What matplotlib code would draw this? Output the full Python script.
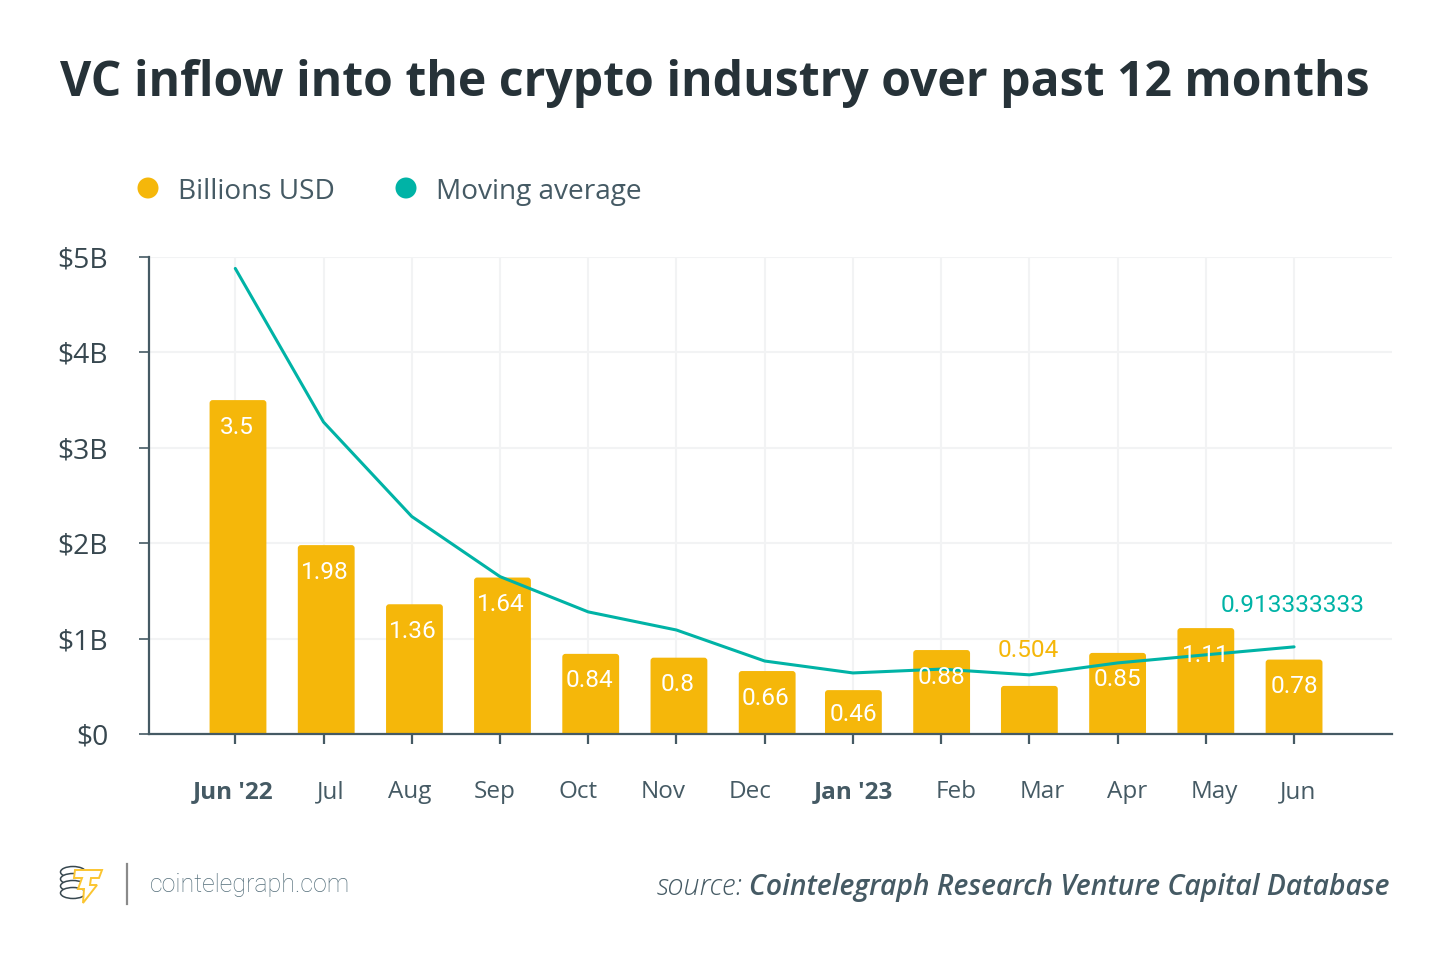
import matplotlib
matplotlib.use('Agg')
import matplotlib.pyplot as plt
from matplotlib.patches import FancyBboxPatch, Ellipse, Polygon

months = ['Jun \'22', 'Jul', 'Aug', 'Sep', 'Oct', 'Nov', 'Dec', 'Jan \'23', 'Feb', 'Mar', 'Apr', 'May', 'Jun']
billions = [3.5, 1.98, 1.36, 1.64, 0.84, 0.8, 0.66, 0.46, 0.88, 0.504, 0.85, 1.11, 0.78]
moving_avg = [4.88, 3.27, 2.28, 1.65, 1.28, 1.09, 0.765, 0.64, 0.68, 0.62, 0.745, 0.83, 0.913333333]
y_labels = ['$0', '$1B', '$2B', '$3B', '$4B', '$5B']
bold_months = ['Jun \'22', 'Jan \'23']
# the month labels are not centred on their ticks in the original (pixels)
label_shift = [-2, 7, -2, -5, -10, -13, -15, 0, 15, 13, 10, 8, 4]
# the first bars also sit slightly right of their ticks (pixels)
bar_shift = [2.7, 2.7, 2.7, 2.5, 2.5, 2.5, 2.5, 0.5, 0.5, 0, 0, 0, 0]

YELLOW = '#f5b70a'
TEAL = '#00b3a6'
DARK = '#263238'
AXIS = '#455a64'
GRID = '#f2f3f4'

plt.rcParams['font.family'] = ['Open Sans', 'DejaVu Sans']

fig = plt.figure(figsize=(14.5, 9.64), dpi=100)
W, H = 1450.0, 964.0
ax = fig.add_axes([149 / W, 1 - 734 / H, (1392 - 149) / W, (734 - 257) / H])
ax.set_xlim(-0.978, 13.11)
ax.set_ylim(0, 5)
step = 1243.0 / 14.088

ax.set_axisbelow(True)
ax.grid(color=GRID, lw=1.5)
for s in ['top', 'right']:
    ax.spines[s].set_visible(False)
for s in ['left', 'bottom']:
    ax.spines[s].set_color(AXIS)
    ax.spines[s].set_linewidth(1.6)
    ax.spines[s].set_zorder(6)

ax.set_xticks(range(len(months)))
ax.set_xticklabels([])
ax.set_yticks(range(len(y_labels)))
ax.set_yticklabels(y_labels, fontsize=20.3, color='#37474f')
ax.tick_params(axis='x', length=7.5, width=1.6, color=AXIS)
ax.tick_params(axis='y', length=7.5, width=1.2, color=AXIS, pad=22)

# rounded bars, started below zero so only the top corners show
aspect = (5 / 477.0) / (1 / step)
for i, v in enumerate(billions):
    ax.add_patch(FancyBboxPatch((i + bar_shift[i] / step - 0.322, -0.1), 0.644, v + 0.1,
                                boxstyle='round,pad=0,rounding_size=0.035',
                                mutation_aspect=aspect, fc=YELLOW, ec='none', zorder=3))

ax.plot(range(len(moving_avg)), moving_avg, color=TEAL, lw=2.2, zorder=4, solid_capstyle='round')

for i, v in enumerate(billions):
    if v == 0.504:
        ax.annotate(str(v), (i, moving_avg[i]), xytext=(-1, 24), textcoords='offset pixels',
                    ha='center', va='center', fontsize=17.6, family='Roboto', color=YELLOW, zorder=5)
    else:
        drop = -24 if v == 0.46 else -27
        ax.annotate(str(v), (i, v), xytext=(bar_shift[i] / 2, drop), textcoords='offset pixels',
                    ha='center', va='center', fontsize=17.6, family='Roboto', color='white', zorder=5)
ax.annotate('0.913333333', (12, moving_avg[12]), xytext=(-1, 41), textcoords='offset pixels',
            ha='center', va='center', fontsize=17.6, family='Roboto', color=TEAL, zorder=5)

for i, m in enumerate(months):
    ax.annotate(m, (i, 0), xytext=(label_shift[i], -58), textcoords='offset pixels',
                ha='center', va='center', fontsize=17.5, color=AXIS,
                fontweight='bold' if m in bold_months else 'normal')

# overlay in pixel coordinates for title, legend and footer
top = fig.add_axes([0, 0, 1, 1], zorder=-1)
top.set_xlim(0, W)
top.set_ylim(H, 0)
top.axis('off')
top.text(60, 83, 'VC inflow into the crypto industry over past 12 months', fontsize=34.7,
         fontweight='bold', color=DARK, va='center', ha='left')

top.add_patch(Ellipse((148, 188), 21, 21, fc=YELLOW, ec='none'))
top.text(178, 192, 'Billions USD', fontsize=20.2, color=AXIS, va='center')
top.add_patch(Ellipse((406, 188), 21, 21, fc=TEAL, ec='none'))
top.text(436, 192, 'Moving average', fontsize=20.2, color=AXIS, va='center')

# logo
for cy in [872, 879, 886, 893]:
    top.add_patch(Ellipse((73, cy), 25, 11, fc='white', ec='#37474f', lw=1.1))
top.add_patch(Polygon([(75, 870), (102, 870), (99, 878), (91, 878), (90, 885), (97, 885),
                       (83, 903), (84, 889), (78, 889), (82, 878), (74, 878)],
                      closed=True, fc='white', ec='#fbc531', lw=1.4))
top.plot([127, 127], [864, 904], color='#8a8a8a', lw=1.6)
top.text(150, 885, 'cointelegraph.com', fontsize=18, family='Roboto', fontweight='light',
         color='#546e7a', va='center')

top.text(1390, 887, 'Cointelegraph Research Venture Capital Database', fontsize=20.3, style='italic',
         fontweight='semibold', color=AXIS, va='center', ha='right')
top.text(743, 887, 'source:', fontsize=20.8, style='italic', fontweight='light', color=AXIS, va='center', ha='right')

fig.savefig('out.png', dpi=100)
